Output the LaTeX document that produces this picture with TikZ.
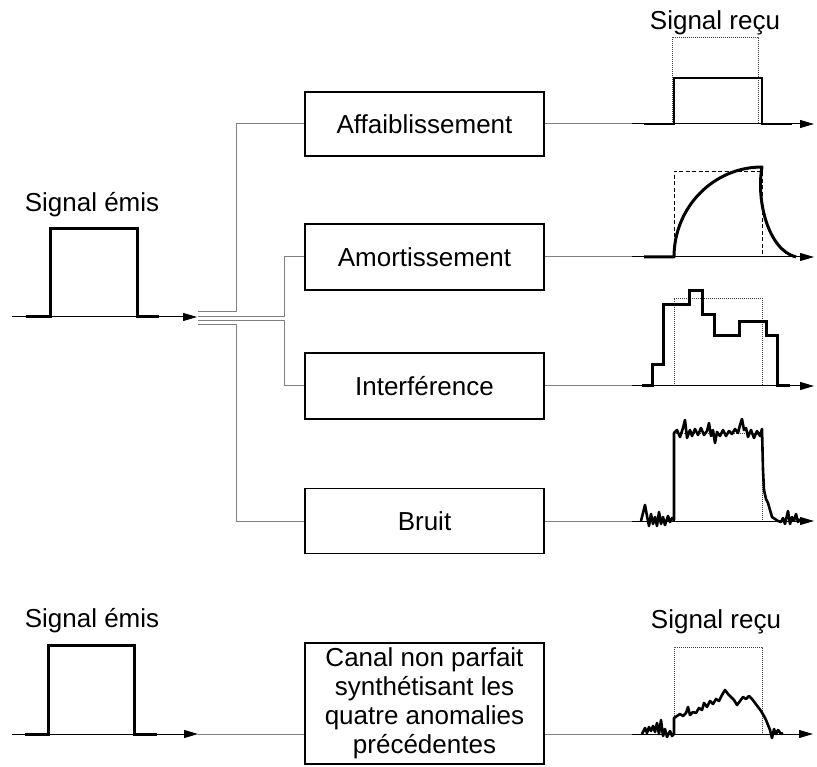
\documentclass[tikz,border=0pt]{standalone}
\usepackage{fontspec}
\setmainfont{Liberation Sans}
\usetikzlibrary{arrows.meta}
\begin{document}
\begin{tikzpicture}[x=1pt,y=-1pt,
  every node/.style={font=\fontsize{26}{29}\selectfont},
  axis/.style={line width=1pt, -{Triangle[length=14pt,width=8pt]}},
  wire/.style={line width=1pt, black!50},
  sig/.style={line width=3pt, line join=miter},
  noisy/.style={line width=2.6pt, line join=round},
  refbox/.style={line width=0.8pt, black!75, dash pattern=on 1pt off 1pt},
  refdash/.style={line width=0.9pt, black, dash pattern=on 4pt off 2.5pt},
  block/.style={draw, line width=1.2pt, minimum width=239pt, minimum height=64pt, inner sep=0pt},
]
\useasboundingbox (0,0) rectangle (817,767);

% ---------- channel blocks ----------
\node[block] (aff) at (424.5,124) {Affaiblissement};
\node[block, minimum height=66pt] (amo) at (424.5,257) {Amortissement};
\node[block, minimum height=66pt] (int) at (424.5,386) {Interférence};
\node[block, minimum height=65pt] (bru) at (424.5,521) {Bruit};
\node[block, minimum height=121pt, align=center] (can) at (424.5,703.5)
  {Canal non parfait\\synthétisant les\\quatre anomalies\\précédentes};

% ---------- emitted signal (upper part) ----------
\node (emA) at (92,205) {Signal émis};
\coordinate (a0) at (12,317);
\coordinate (a1) at (197,317);
\draw[axis] (a0) -- (a1);
\draw[sig] (26,317) -- (50,317) -- (50,229) -- (137,229) -- (137,317) -- (159,317);

% split towards the four channel effects
\coordinate (s1) at (198,312);
\coordinate (s2) at (198,316.5);
\coordinate (s3) at (198,320.5);
\coordinate (s4) at (198,325);
\draw[wire] (s1) -- (236,312) |- (aff.west);
\draw[wire] (s2) -- (284,316.5) |- (amo.west);
\draw[wire] (s3) -- (284,320.5) |- (int.west);
\draw[wire] (s4) -- (236,325) |- (bru.west);

% outputs of the blocks
\coordinate (r1) at (632,124);   \coordinate (t1) at (814,124);
\coordinate (r2) at (632,257);   \coordinate (t2) at (814,257);
\coordinate (r3) at (632,386);   \coordinate (t3) at (814,386);
\coordinate (r4) at (632,521);   \coordinate (t4) at (814,521);
\draw[wire] (aff.east) -- (r1);  \draw[axis] (r1) -- (t1);
\draw[wire] (amo.east) -- (r2);  \draw[axis] (r2) -- (t2);
\draw[wire] (int.east) -- (r3);  \draw[axis] (r3) -- (t3);
\draw[wire] (bru.east) -- (r4);  \draw[axis] (r4) -- (t4);

% attenuation
\node (recA) at (715,23) {Signal reçu};
\draw[refbox] (672,124) -- (672,37) -- (758,37) -- (758,124);
\draw[sig, line width=2.6pt] (644,124) -- (674,124) -- (674,78) -- (762,78) -- (762,124) -- (792,124);

% damping
\draw[refdash] (674,257) -- (674,171) -- (762,171) -- (762,257);
\draw[sig, line join=round] (644,257) -- (674,257)
  arc[start angle=180, end angle=270, x radius=88, y radius=90]
  .. controls (756,200) and (768,250) .. (796,257);

% interference
\draw[refbox] (674,386) -- (674,298) -- (762,298) -- (762,386);
\draw[sig] (642,386) -- (652,386) -- (652,365) -- (663,365) -- (663,305) -- (689,305)
  -- (689,291) -- (702,291) -- (702,315) -- (714,315) -- (714,336) -- (739,336)
  -- (739,322) -- (766,322) -- (766,336) -- (777,336) -- (777,386) -- (790,386);

% noise
\draw[refbox] (674,521) -- (674,433) -- (762,433) -- (762,521);
\draw[noisy] plot coordinates {
  (641,521) (645,505) (647,516) (649,526) (651,514) (653,524) (655,517) (657,526)
  (659,512) (661,524) (663,517) (665,525) (668,516) (670,522) (672,518) (674,520)
  (674,433) (677,430) (680,437) (683,428) (685,420) (687,438) (690,430) (692,436)
  (695,429) (698,435) (701,428) (704,435) (707,431) (709,423) (711,436) (713,430)
  (715,443) (717,432) (720,436) (723,430) (726,436) (729,431) (732,434) (735,429)
  (738,433) (740,425) (742,419) (744,430) (746,428) (748,437) (751,430) (754,438)
  (757,431) (760,436) (762,429) (763,470) (764,490) (766,499) (768,503) (770,510)
  (772,517) (775,519) (778,521) (781,522) (783,518) (785,524) (788,511) (790,524)
  (792,517) (794,521) (796,514) (798,522) (800,519)};

% ---------- lower part: combined channel ----------
\node (emB) at (92,621) {Signal émis};
\coordinate (b0) at (12,734);
\coordinate (b1) at (198,734);
\draw[axis] (b0) -- (b1);
\draw[sig] (25,734) -- (48,734) -- (48,645) -- (134,645) -- (134,734) -- (157,734);
\draw[wire] (b1) -- (b1 -| can.west);

\coordinate (r5) at (632,734);
\coordinate (t5) at (813,734);
\draw[wire] (can.east |- r5) -- (r5);
\draw[axis] (r5) -- (t5);

\node (recB) at (716,622) {Signal reçu};
\draw[refbox] (674,734) -- (674,647) -- (762,647) -- (762,734);
\draw[noisy] plot coordinates {
  (642,734) (645,728) (647,733) (649,727) (651,731) (653,726) (655,732) (657,723)
  (659,734) (661,720) (663,736) (665,729) (667,737) (670,731) (672,736) (674,734)
  (674,718) (677,716) (680,714) (683,716) (686,713) (688,707) (690,715) (693,712)
  (696,713) (699,708) (702,710) (704,703) (707,707) (710,701) (713,704) (716,699)
  (719,701) (722,695) (725,690) (728,694) (731,697) (734,700) (737,705) (740,701)
  (743,697) (746,699) (749,696) (752,699) (755,703) (758,707) (761,711) (764,716)
  (766,720) (768,725) (770,730) (772,738) (774,729) (776,734) (778,730) (781,734)
  (783,733)};
\end{tikzpicture}
\end{document}
